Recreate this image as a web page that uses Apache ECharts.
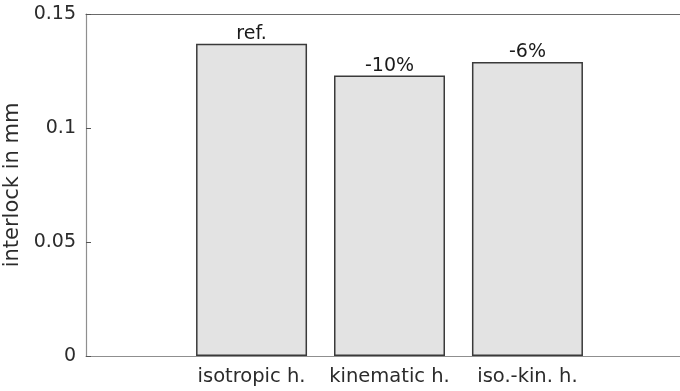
<!DOCTYPE html>
<html>
<head>
<meta charset="utf-8">
<script src="https://cdn.jsdelivr.net/npm/echarts@6/dist/echarts.min.js"></script>
<style>
  html, body { margin: 0; padding: 0; background: #fff; }
  #chart { width: 680px; height: 391px; }
</style>
</head>
<body>
<div id="chart"></div>
<script>
// Hardening models and the resulting interlock
const categories = ['isotropic h.', 'kinematic h.', 'iso.-kin. h.'];
const positions = [1, 2, 3];
const interlock = [0.137, 0.123, 0.129];
const barLabels = ['ref.', '-10%', '-6%'];
const yTicks = [0, 0.05, 0.1, 0.15];

const FONT = 'DejaVu Sans';
const axisGray = '#8f8f8f';
const textColor = '#2b2b2b';

const chart = echarts.init(document.getElementById('chart'));
chart.setOption({
  animation: false,
  backgroundColor: '#ffffff',
  grid: {
    left: 86, top: 14, width: 607, height: 342,
    containLabel: false, outerBoundsMode: 'none'
  },
  xAxis: [
    {
      type: 'value',
      min: -0.2,
      max: 4.2,
      splitLine: { show: false },
      axisLine: { show: true, onZero: false, lineStyle: { color: axisGray, width: 1.2 } },
      axisTick: {
        show: true, inside: true, length: 4, customValues: positions,
        lineStyle: { color: '#555', width: 1 }
      },
      axisLabel: {
        show: true, customValues: positions, margin: 11,
        fontFamily: FONT, fontSize: 19.5, color: textColor,
        formatter: v => categories[positions.indexOf(v)] || ''
      }
    },
    {
      type: 'value',
      position: 'top',
      min: -0.2,
      max: 4.2,
      splitLine: { show: false },
      axisLine: { show: true, onZero: false, lineStyle: { color: '#6a6a6a', width: 1.2 } },
      axisTick: { show: false },
      axisLabel: { show: false }
    }
  ],
  yAxis: {
    type: 'value',
    min: yTicks[0],
    max: yTicks[yTicks.length - 1],
    interval: 0.05,
    name: 'interlock in mm',
    nameLocation: 'middle',
    nameGap: 57,
    nameTextStyle: { fontFamily: FONT, fontSize: 21, color: textColor },
    splitLine: { show: false },
    axisLine: { show: true, onZero: false, lineStyle: { color: axisGray, width: 1.2 } },
    axisTick: { show: true, inside: true, length: 5, lineStyle: { color: '#555' } },
    axisLabel: {
      margin: 10, fontFamily: FONT, fontSize: 19, color: textColor,
      formatter: v => String(yTicks.find(t => Math.abs(t - v) < 1e-9) ?? v)
    }
  },
  series: [{
    type: 'bar',
    xAxisIndex: 0,
    data: positions.map((p, i) => [p, interlock[i]]),
    barWidth: 111,
    itemStyle: { color: '#e3e3e3', borderColor: '#3a3a3a', borderWidth: 1.5 },
    label: {
      show: true, position: 'top', distance: 0,
      fontFamily: FONT, fontSize: 19, color: '#1a1a1a',
      formatter: p => barLabels[p.dataIndex]
    }
  }]
});
</script>
</body>
</html>
